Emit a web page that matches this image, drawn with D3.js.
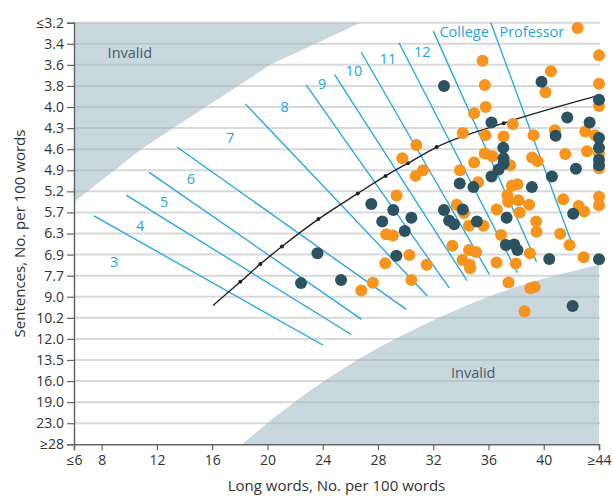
<!DOCTYPE html>
<html><head><meta charset="utf-8">
<script src="https://cdn.jsdelivr.net/npm/d3@7"></script>
<style>
html,body{margin:0;padding:0;background:#fff;}
svg text{font-family:"Open Sans",sans-serif;}
</style></head>
<body><svg id="c" width="613" height="496"></svg>
<script>
// ---------- data ----------
const xTicks = [6, 8, 12, 16, 20, 24, 28, 32, 36, 40, 44];
const xTickLabels = ["≤6", "8", "12", "16", "20", "24", "28", "32", "36", "40", "≥44"];
const yTicks = [3.2, 3.4, 3.6, 3.8, 4.0, 4.3, 4.6, 4.9, 5.2, 5.7, 6.3, 6.9, 7.7, 9.0, 10.2, 12.0, 13.5, 16.0, 19.0, 23.0, 28];
const yTickLabels = ["≤3.2", "3.4", "3.6", "3.8", "4.0", "4.3", "4.6", "4.9", "5.2", "5.7", "6.3", "6.9", "7.7", "9.0", "10.2", "12.0", "13.5", "16.0", "19.0", "23.0", "≥28"];

// grade lines: [x1, y1, x2, y2] in (long words, sentences)
const gradeLines = [
  [7.45, 5.80, 24.04, 12.45],
  [9.77, 5.29, 26.07, 11.62],
  [11.44, 4.93, 26.81, 10.33],
  [13.45, 4.57, 30.05, 9.72],
  [18.40, 3.97, 31.58, 8.95],
  [22.80, 3.79, 33.17, 8.47],
  [24.85, 3.69, 34.45, 8.01],
  [26.79, 3.48, 36.06, 7.65],
  [29.52, 3.39, 38.10, 7.59],
  [32.01, 3.28, 39.48, 7.18],
  [36.17, 3.20, 42.00, 6.54]
];
const gradeNames = ["3", "4", "5", "6", "7", "8", "9", "10", "11", "12", "College", "Professor"];
const gradeLabelAt = [[8.9, 7.18], [10.79, 6.08], [12.53, 5.45], [14.46, 5.02], [17.31, 4.44], [21.25, 4.0], [23.96, 3.78], [26.26, 3.66], [28.72, 3.54], [31.21, 3.48], [34.24, 3.29], [39.14, 3.29]];

// average curve
const curveX = [16.06, 18.04, 19.49, 21.05, 23.69, 26.54, 28.55, 30.17, 32.25, 37.1, 44.0];
const curveY = [9.5, 8.08, 7.26, 6.67, 5.89, 5.25, 4.98, 4.8, 4.57, 4.23, 3.89];

// invalid regions boundaries
const invalidTopX = [6, 10.93, 20.21, 26.74];
const invalidTopY = [5.45, 4.59, 3.6, 3.2];
const invalidBottomX = [18.16, 22.15, 26.5, 31.82, 36.65, 44];
const invalidBottomY = [28, 18.7, 13.5, 10.52, 8.79, 7.29];

// orange series
const orangeX = [42.45, 44, 35.57, 40.52, 40.13, 44, 35.73, 44, 35.8, 34.96, 37.76, 40.81, 43.01, 43.71, 34.14, 35.78, 37.09, 39.26, 30.78, 44, 43.13, 41.56, 35.73, 36.29, 29.76, 39.16, 39.55, 44, 34.96, 37.57, 31.26, 30.73, 33.94, 35.25, 37.69, 38.1, 37.37, 29.35, 44, 44, 41.41, 42.53, 42.93, 37.42, 38.17, 38.94, 38.25, 36.6, 33.7, 34.23, 34.59, 35.64, 39.45, 39.48, 28.6, 29.08, 36.91, 41.19, 41.87, 33.39, 34.59, 35.1, 39.0, 30.27, 28.53, 31.53, 34.12, 34.65, 34.67, 36.58, 37.98, 42.89, 27.63, 30.42, 26.79, 37.45, 39.03, 39.34, 38.61];
const orangeY = [3.25, 3.51, 3.56, 3.66, 3.86, 3.78, 3.79, 3.99, 4.0, 4.09, 4.24, 4.33, 4.35, 4.4, 4.37, 4.4, 4.42, 4.4, 4.54, 4.66, 4.63, 4.67, 4.66, 4.7, 4.73, 4.72, 4.77, 4.87, 4.79, 4.83, 4.9, 4.98, 4.9, 5.07, 5.12, 5.1, 5.29, 5.3, 5.33, 5.53, 5.39, 5.55, 5.68, 5.45, 5.41, 5.52, 5.7, 5.63, 5.52, 5.72, 6.08, 6.08, 5.96, 6.25, 6.32, 6.36, 6.34, 6.31, 6.63, 6.65, 6.77, 6.83, 6.86, 6.92, 7.23, 7.29, 7.11, 7.29, 7.42, 7.2, 7.24, 7.0, 8.13, 7.97, 8.61, 8.12, 8.48, 8.4, 9.83];

// dark series
const darkX = [39.84, 32.78, 44, 41.7, 36.22, 43.32, 40.86, 44, 37.07, 44, 37.09, 44, 44, 37.09, 36.73, 42.33, 36.22, 40.59, 33.92, 34.91, 39.14, 42.13, 27.52, 29.11, 32.78, 34.14, 28.31, 30.42, 33.15, 33.51, 35.16, 37.31, 29.94, 37.26, 37.86, 38.1, 29.33, 40.4, 44, 23.62, 22.43, 25.33, 42.09];
const darkY = [3.76, 3.8, 3.93, 4.15, 4.22, 4.22, 4.41, 4.44, 4.58, 4.58, 4.73, 4.75, 4.83, 4.81, 4.89, 4.88, 4.99, 4.99, 5.09, 5.14, 5.14, 5.74, 5.5, 5.64, 5.64, 5.63, 5.96, 5.85, 5.93, 6.04, 5.96, 5.85, 6.23, 6.63, 6.61, 6.77, 6.94, 7.07, 7.08, 6.86, 8.16, 7.97, 9.53];

// ---------- drawing ----------
const W = 613, H = 496;
const L = 74, R = 599, T = 22.7, B = 444.3;
const svg = d3.select("#c");
const x = d3.scaleLinear().domain([6, 44]).range([L, R]);
const step = (B - T) / (yTicks.length - 1);
const y = d3.scaleLinear().domain(yTicks).range(yTicks.map((d, i) => T + i * step));

const blue = "#1fa6e0", orange = "#f7941d", dark = "#2c5260";

// grid
svg.append("g").selectAll("line").data(yTicks.slice(0, -1)).join("line")
  .attr("x1", L).attr("x2", R + 1).attr("y1", d => y(d)).attr("y2", d => y(d))
  .attr("stroke", "#d9d9d9").attr("stroke-width", 2);

// invalid regions
const topPts = invalidTopX.map((v, i) => [x(v), y(invalidTopY[i])]);
const topPoly = [[x(6), y(3.2)], ...topPts];
svg.append("path").attr("d", d3.line()(topPoly) + "Z")
  .attr("fill", "#9db6c3").attr("fill-opacity", 0.55);

const botPts = invalidBottomX.map((v, i) => [x(v), y(invalidBottomY[i])]);
const botPath = d3.line().curve(d3.curveMonotoneX)(botPts) + `L${x(44)},${y(28)}Z`;
svg.append("path").attr("d", botPath)
  .attr("fill", "#9db6c3").attr("fill-opacity", 0.55);

svg.append("text").attr("x", x(10.04)).attr("y", y(3.49)).attr("dy", "0.35em")
  .attr("text-anchor", "middle").attr("fill", "#3f6070").attr("font-size", 14.5).text("Invalid");
svg.append("text").attr("x", x(34.9)).attr("y", y(15.0)).attr("dy", "0.35em")
  .attr("text-anchor", "middle").attr("fill", "#3f6070").attr("font-size", 14.5).text("Invalid");

// grade lines
svg.append("g").selectAll("line").data(gradeLines).join("line")
  .attr("x1", d => x(d[0])).attr("y1", d => y(d[1]))
  .attr("x2", d => x(d[2])).attr("y2", d => y(d[3]))
  .attr("stroke", blue).attr("stroke-width", 1.3);
svg.append("g").selectAll("text").data(gradeNames).join("text")
  .attr("x", (d, i) => x(gradeLabelAt[i][0])).attr("y", (d, i) => y(gradeLabelAt[i][1]))
  .attr("dy", "0.35em").attr("text-anchor", "middle")
  .attr("fill", blue).attr("font-size", 14.5).text(d => d);

// curve
const cpts = curveX.map((v, i) => [x(v), y(curveY[i])]);
svg.append("path").attr("d", d3.line().curve(d3.curveMonotoneX)(cpts))
  .attr("fill", "none").attr("stroke", "#222").attr("stroke-width", 1.4);
svg.append("g").selectAll("circle").data(cpts.slice(1, -1)).join("circle")
  .attr("cx", d => d[0]).attr("cy", d => d[1]).attr("r", 2).attr("fill", "#222");

// points
svg.append("g").selectAll("circle").data(orangeX).join("circle")
  .attr("cx", d => x(d)).attr("cy", (d, i) => y(orangeY[i])).attr("r", 6).attr("fill", orange);
svg.append("g").selectAll("circle").data(darkX).join("circle")
  .attr("cx", d => x(d)).attr("cy", (d, i) => y(darkY[i])).attr("r", 6).attr("fill", dark);

// axes
const yAxis = svg.append("g").attr("transform", `translate(${L},0)`)
  .call(d3.axisLeft(y).tickValues(yTicks).tickFormat((d, i) => yTickLabels[i]).tickSizeOuter(0).tickSize(7).tickPadding(3));
const xAxis = svg.append("g").attr("transform", `translate(0,${B})`)
  .call(d3.axisBottom(x).tickValues(xTicks).tickFormat((d, i) => xTickLabels[i]).tickSizeOuter(0).tickSize(6).tickPadding(5));
[yAxis, xAxis].forEach(a => {
  a.selectAll("path").attr("stroke", "#666").attr("stroke-width", 1.5);
  a.selectAll("line").attr("stroke", "#666").attr("stroke-width", 1.2);
  a.selectAll("text").attr("fill", "#333").attr("font-size", 14).attr("font-family", "Open Sans, sans-serif");
});

svg.append("text").attr("x", (L + R) / 2).attr("y", 486).attr("dy", "0.35em")
  .attr("text-anchor", "middle").attr("fill", "#333").attr("font-size", 15)
  .text("Long words, No. per 100 words");
svg.append("text").attr("transform", `translate(20,${(T + B) / 2}) rotate(-90)`).attr("dy", "0.35em")
  .attr("text-anchor", "middle").attr("fill", "#333").attr("font-size", 15)
  .text("Sentences, No. per 100 words");
</script></body></html>
